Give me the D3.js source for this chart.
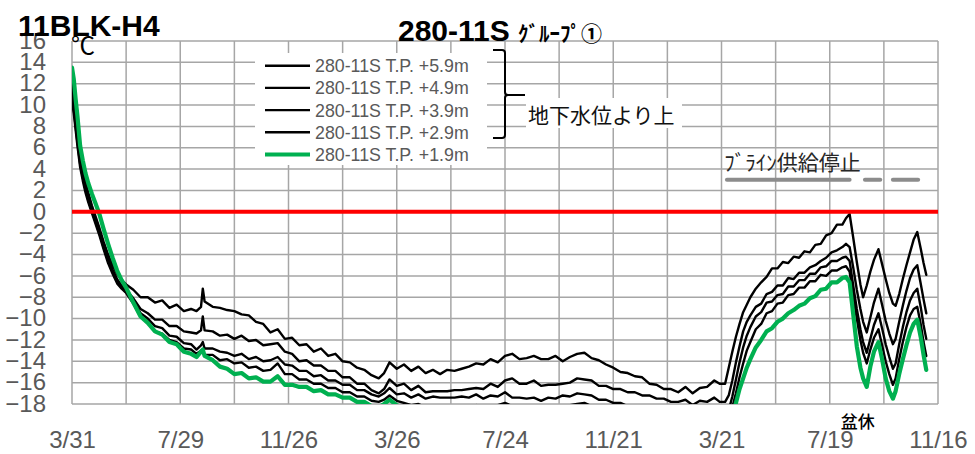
<!DOCTYPE html>
<html><head><meta charset="utf-8">
<script src="https://cdn.jsdelivr.net/npm/d3@7"></script>
<style>body{margin:0;background:#fff;} svg{display:block;}</style>
</head><body><svg id="chart" width="975" height="454"></svg>
<script>
// Days since 3/31 (start of record)
const days = [0,2,4,6,9,12,15,18,22,26,30,35,40,45,50,55,60,
68,76,84,92,100,108,116,124,132,138,143,145,147,156,164,172,180,188,196,204,212,220,228,236,244,252,260,268,276,284,292,300,308,316,324,332,340,346,352,360,368,376,384,392,400,408,416,424,432,440,448,456,464,472,480,488,496,504,512,520,528,536,544,552,560,568,576,584,592,600,608,616,624,632,640,648,656,664,672,680,688,696,704,712,718,724,
728,732,736,740,744,748,752,758,764,770,776,782,788,794,800,806,812,818,824,830,836,842,848,854,858,862,866,870,874,877,881,885,889,894,898,902,906,910,913,917,921,925,929,933,937,941,944,947];

const tp59 = [12.3,10.9,9.2,7.6,5.4,4.0,2.8,1.8,0.6,-0.4,-1.4,-2.8,-4.0,-5.0,-5.8,-6.4,-6.8,
-7.3,-8.0,-8.0,-8.5,-8.3,-9.0,-8.7,-9.3,-9.1, -9.3,-8.9,-7.2,-8.4,
-8.9,-9.0,-9.2,-9.3,-9.6,-9.7,-10.3,-10.5,-11.3,-11.0,
-11.9,-11.8,-12.5,-12.4,-13.1,-12.8,-13.5,-13.3,-14.0,
-14.1,-14.6,-14.8,-15.3,-15.6, -15.1,-14.1,
-14.7,-14.3,-14.9,-14.5,-15.1,-14.8,
-15.2,-14.8,-14.9,-14.7,-14.5,-14.2,-14.3,-13.8,-14.1,-13.5,
-13.3,-13.8,-13.7,-13.5,-13.8,-13.8,-13.5,-14.0,-13.6,-13.3,
-13.2,-13.7,-13.9,-14.3,-14.6,-15.0,-15.1,-15.4,-15.5,-16.1,
-16.2,-16.6,-16.6,-16.9,-16.4,-17.0,-16.5,-16.4,-15.8, -16.1,-16.1,
-14.6,-13.1,-11.7,-10.5,-9.4,-8.7,-8.0,-7.2,-6.6,-6.1,-5.3,-5.3,-4.7,-4.8,-4.2,-4.3,-3.7,-3.8,-3.1,-3.0,
-2.2,-2.0,-1.2,-1.2,-0.6,-0.2,-2.4,-4.7,-6.8,-8.0,-6.9,-5.6,-4.5,-3.5,-4.9,-6.3,-7.6,-8.6,-8.8,-7.7,
-6.3,-5.0,-3.8,-2.6,-1.9,-3.5,-4.8,-5.9];

const tp49 = [11.8,10.3,8.6,7.0,4.9,3.5,2.4,1.4,0.3,-0.7,-1.7,-3.1,-4.4,-5.4,-6.3,-6.9,-7.3,
-8.1,-9.1,-9.5,-10.1,-10.1,-10.7,-10.7,-11.2,-11.3, -11.4,-11.1,-9.8,-11.1,
-11.2,-11.6,-11.5,-11.9,-11.6,-12.1,-12.0,-12.5,-12.4,-12.3,
-13.1,-13.3,-14.0,-13.9,-14.4,-14.4,-14.9,-14.9,-15.5,
-15.5,-16.1,-16.1,-16.7,-17.0, -16.6,-15.7,
-16.3,-16.1,-16.7,-16.3,-16.9,-16.8,
-16.8,-16.8,-16.7,-16.7,-16.6,-16.5,-16.6,-16.1,-16.4,-15.8,
-15.6,-16.1,-16.1,-15.8,-16.3,-16.2,-16.2,-16.1,-16.0,-15.6,
-15.7,-15.8,-16.3,-16.3,-16.6,-16.6,-16.9,-16.9,-17.2,-17.2,
-17.5,-17.5,-17.8,-17.8,-17.6,-18.1,-17.7,-17.8,-17.4, -17.8,-17.8,
-17.2,-15.8,-14.1,-12.6,-11.2,-10.3,-9.7,-8.9,-8.6,-7.7,-7.5,-6.9,-6.9,-6.2,-6.3,-5.7,-5.7,-5.2,-5.0,-4.6,
-4.3,-3.8,-3.6,-3.3,-3.0,-3.3,-5.2,-7.3,-9.1,-10.3,-11.3,-9.9,-8.5,-7.2,-8.7,-10.2,-11.4,-12.4,-11.9,-10.3,
-8.8,-7.4,-6.2,-5.4,-5.0,-6.8,-8.2,-9.5];

const tp39 = [11.0,9.6,8.0,6.5,4.5,3.2,2.1,1.1,0.1,-0.9,-1.9,-3.3,-4.6,-5.6,-6.5,-7.1,-7.5,
-8.4,-9.5,-10.0,-10.7,-10.9,-11.6,-11.7,-12.3,-12.4, -12.9,-12.5,-12.2,-12.8,
-12.8,-13.1,-13.2,-13.5,-13.3,-13.8,-13.6,-14.0,-13.9,-13.6,
-14.3,-14.4,-14.9,-14.9,-15.4,-15.3,-15.8,-15.8,-16.2,
-16.2,-16.7,-16.7,-17.1,-17.3, -17.0,-16.5,
-17.1,-17.0,-17.4,-17.1,-17.5,-17.3,
-17.4,-17.4,-17.4,-17.3,-17.4,-17.1,-17.5,-17.2,-17.3,-16.9,
-17.4,-17.4,-17.5,-17.4,-17.7,-17.4,-17.5,-17.2,-17.3,-17.0,
-17.1,-17.2,-17.6,-17.6,-17.9,-17.9,-18.2,-18.2,-18.5,-18.5,
-18.7,-18.9,-19.0,-19.1,-19.0,-19.2,-19.0,-18.9,-18.7, -18.9,-19.0,
-18.6,-17.3,-15.7,-14.1,-12.7,-11.6,-10.8,-9.8,-9.4,-8.5,-8.4,-7.8,-7.7,-7.0,-7.0,-6.4,-6.4,-5.8,-5.8,-5.2,
-5.1,-4.6,-4.6,-4.3,-4.2,-4.6,-6.9,-9.1,-11.0,-12.2,-13.2,-11.9,-10.6,-9.5,-10.9,-12.4,-13.6,-14.7,-14.2,-12.4,
-10.8,-9.4,-8.3,-7.6,-7.2,-9.0,-10.6,-11.9];

const tp29 = [10.4,9.2,7.7,6.2,4.2,2.9,1.8,0.9,-0.1,-1.1,-2.1,-3.5,-4.8,-5.8,-6.7,-7.2,-7.6,
-8.6,-9.8,-10.4,-11.2,-11.4,-12.0,-12.2,-12.8,-12.9, -13.3,-13.0,-12.9,-13.4,
-13.4,-13.9,-13.8,-14.2,-14.1,-14.6,-14.5,-14.9,-14.8,-14.2,
-15.2,-15.2,-15.7,-15.7,-16.1,-16.1,-16.5,-16.5,-16.9,
-16.9,-17.3,-17.3,-17.7,-17.8, -17.6,-17.2,
-17.7,-17.9,-18.1,-18.0,-18.3,-18.3,
-18.2,-18.4,-18.3,-18.4,-18.2,-18.1,-18.3,-18.2,-18.1,-17.9,
-18.2,-18.4,-18.3,-18.4,-18.5,-18.4,-18.3,-18.2,-18.1,-18.0,
-17.9,-18.2,-18.4,-18.6,-18.7,-18.9,-19.0,-19.2,-19.3,-19.5,
-19.6,-19.8,-19.9,-20.0,-19.9,-20.1,-19.9,-19.8,-19.6, -19.8,-19.9,
-19.4,-18.3,-17.0,-15.5,-14.2,-13.0,-12.2,-11.0,-10.5,-9.5,-9.3,-8.6,-8.5,-7.8,-7.7,-7.1,-7.1,-6.5,-6.5,-5.9,
-6.0,-5.5,-5.5,-5.2,-5.1,-5.6,-7.8,-10.0,-12.0,-13.2,-14.2,-12.9,-11.8,-11.0,-12.5,-14.0,-15.2,-16.2,-15.6,-13.8,
-12.2,-10.8,-9.7,-9.1,-8.9,-10.6,-12.2,-13.5];

const tp19 = [13.5,12.4,10.6,9.0,6.2,4.8,3.6,2.7,1.7,0.8,-0.1,-1.6,-3.0,-4.3,-5.5,-6.4,-7.1,
-8.5,-9.8,-10.4,-11.2,-11.5,-12.2,-12.4,-13.1,-13.3, -13.6,-13.1,-12.9,-13.5,
-13.9,-14.5,-14.7,-15.2,-15.1,-15.6,-15.5,-15.9,-15.9,-15.4,
-16.2,-16.2,-16.4,-16.4,-16.8,-16.7,-17.1,-17.1,-17.4,
-17.4,-17.8,-17.8,-18.2,-18.3, -18.0,-17.6,
-18.1,-18.4,-18.6,-18.5,-18.7,-18.8,
-18.7,-18.9,-18.8,-18.9,-18.7,-18.6,-18.8,-18.7,-18.6,-18.4,
-18.7,-18.9,-18.8,-18.9,-19.0,-18.9,-18.8,-18.7,-18.6,-18.5,
-18.4,-18.7,-18.9,-19.1,-19.2,-19.4,-19.5,-19.7,-19.8,-20.0,
-20.1,-20.3,-20.4,-20.5,-20.4,-20.6,-20.4,-20.3,-20.1, -20.3,-20.4,
-20.0,-19.2,-17.9,-16.6,-15.6,-14.6,-13.8,-12.7,-12.0,-11.2,-10.9,-10.3,-10.0,-9.5,-9.2,-8.8,-8.6,-8.1,-7.9,-7.3,
-7.2,-6.6,-6.6,-6.2,-6.1,-6.6,-9.6,-12.6,-14.6,-15.6,-16.4,-14.5,-13.1,-12.2,-13.8,-15.6,-16.8,-17.5,-16.8,-15.2,
-13.8,-12.5,-11.3,-10.5,-10.1,-11.8,-13.4,-14.8];

const seriesNames = ["280-11S T.P. +5.9m","280-11S T.P. +4.9m","280-11S T.P. +3.9m","280-11S T.P. +2.9m","280-11S T.P. +1.9m"];
const seriesColors = ["#000000","#000000","#000000","#000000","#00b050"];
const seriesWidths = [2.4,2.4,2.4,2.4,4.2];
const seriesValues = [tp59, tp49, tp39, tp29, tp19];

const yTicks = d3.range(-18, 17, 2);
const xGridDays = d3.range(0, 961, 60);
const xTickDays = [0,120,240,360,480,600,720,840,960];
const xTickLabels = ["3/31","7/29","11/26","3/26","7/24","11/21","3/21","7/19","11/16"];
const brineStops = [[726,862],[879,896],[910,938]];
const brineLevel = 3;
const obonDay = 871;

const svg = d3.select("#chart");
const x = d3.scaleLinear().domain([0, 960]).range([72, 938]);
const y = d3.scaleLinear().domain([-18, 16]).range([404, 41]);
const gray = "#595959";
const jp = "'Noto Sans CJK JP', sans-serif";
const lat = "'Liberation Sans', Arial, sans-serif";

svg.append("rect").attr("width",975).attr("height",454).attr("fill","#fff");

// gridlines
svg.append("g").selectAll("line").data(yTicks).join("line")
  .attr("x1", x(0)).attr("x2", x(960)).attr("y1", d=>y(d)).attr("y2", d=>y(d))
  .attr("stroke","#a6a6a6").attr("stroke-width",1.5);
svg.append("g").selectAll("line").data(xGridDays).join("line")
  .attr("x1", d=>x(d)).attr("x2", d=>x(d)).attr("y1", y(-18)).attr("y2", y(16))
  .attr("stroke","#a6a6a6").attr("stroke-width",1.5);

// clip
svg.append("clipPath").attr("id","plot").append("rect")
  .attr("x", x(0)).attr("y", y(16)).attr("width", x(960)-x(0)).attr("height", y(-18)-y(16));

const line = d3.line().defined((d,i)=>days[i]!==undefined && d!=null)
  .x((d,i)=>x(days[i])).y(d=>y(d));
const gS = svg.append("g").attr("clip-path","url(#plot)");
seriesValues.forEach((vals,k)=>{
  gS.append("path").attr("d", line(vals)).attr("fill","none")
    .attr("stroke", seriesColors[k]).attr("stroke-width", seriesWidths[k])
    .attr("stroke-linejoin","round").attr("stroke-linecap","round");
});

// zero line
svg.append("line").attr("x1", x(0)).attr("x2", x(960)).attr("y1", y(0)).attr("y2", y(0))
  .attr("stroke","#ff0000").attr("stroke-width",4);

// brine stop periods
svg.append("g").selectAll("line").data(brineStops).join("line")
  .attr("x1", d=>x(d[0])).attr("x2", d=>x(d[1])).attr("y1", y(brineLevel)).attr("y2", y(brineLevel))
  .attr("stroke","#8c8c8c").attr("stroke-width",4).attr("stroke-linecap","round");
svg.append("text").attr("x", x(723)).attr("y", 170).attr("font-family", jp).attr("font-size", 21)
  .attr("fill","#262626").text("ﾌﾞﾗｲﾝ供給停止");

// y axis labels
const yAxis = d3.axisLeft(y).tickValues(yTicks).tickSize(0).tickPadding(26).tickFormat(d3.format("d"));
svg.append("g").attr("transform", `translate(${x(0)},0)`).call(yAxis)
  .call(g=>g.select(".domain").remove())
  .call(g=>g.selectAll("text").attr("font-family", lat).attr("font-size", 24).attr("fill", gray).attr("dy","0.3em"));

// x axis labels
const xAxis = d3.axisBottom(x).tickValues(xTickDays).tickSize(0).tickFormat((d,i)=>xTickLabels[i]);
svg.append("g").attr("transform", `translate(0,${y(-18)})`).call(xAxis)
  .call(g=>g.select(".domain").remove())
  .call(g=>g.selectAll("text").attr("y", 44).attr("dy", null).attr("font-family", lat).attr("font-size", 24).attr("fill", gray));

svg.append("text").attr("x", x(obonDay)).attr("y", 428).attr("text-anchor","middle")
  .attr("font-family", jp).attr("font-size", 17).attr("font-weight", 500).attr("fill","#000").text("盆休");

// legend
const lg = svg.append("g");
lg.append("rect").attr("x",255).attr("y",53).attr("width",232).attr("height",112).attr("fill","#fff");
seriesNames.forEach((name,k)=>{
  const yy = 65.7 + k*22.2;
  lg.append("line").attr("x1",265).attr("x2",310).attr("y1",yy).attr("y2",yy)
    .attr("stroke", seriesColors[k]).attr("stroke-width", seriesWidths[k]);
  lg.append("text").attr("x",315).attr("y",yy).attr("dy","0.36em")
    .attr("font-family", lat).attr("font-size",17.8).attr("fill",gray).text(name);
});

// bracket
svg.append("path").attr("d","M493,50 L502,50 Q505,50 505,53 L505,92 Q505,95 508,95 L525,95 M508,95 Q505,95 505,98 L505,135 Q505,138 502,138 L493,138")
  .attr("fill","none").attr("stroke","#000").attr("stroke-width",2);
svg.append("rect").attr("x",526).attr("y",98).attr("width",156).attr("height",30).attr("fill","#fff");
svg.append("text").attr("x",528).attr("y",123).attr("font-family", jp).attr("font-size",21)
  .attr("fill","#111").text("地下水位より上");

// titles
svg.append("text").attr("x",71).attr("y",54).attr("font-family", jp).attr("font-size",24).attr("fill","#000").text("℃");
svg.append("text").attr("x",18).attr("y",36).attr("font-family", lat).attr("font-weight","bold").attr("font-size",30)
  .attr("fill","#000").text("11BLK-H4");
const t2 = svg.append("text").attr("x",398).attr("y",41).attr("fill","#000");
t2.append("tspan").attr("font-family", lat).attr("font-weight","bold").attr("font-size",30).text("280-11S ");
t2.append("tspan").attr("font-family", jp).attr("font-weight","bold").attr("font-size",21).text("ｸﾞﾙｰﾌﾟ①");
</script>
</body></html>
